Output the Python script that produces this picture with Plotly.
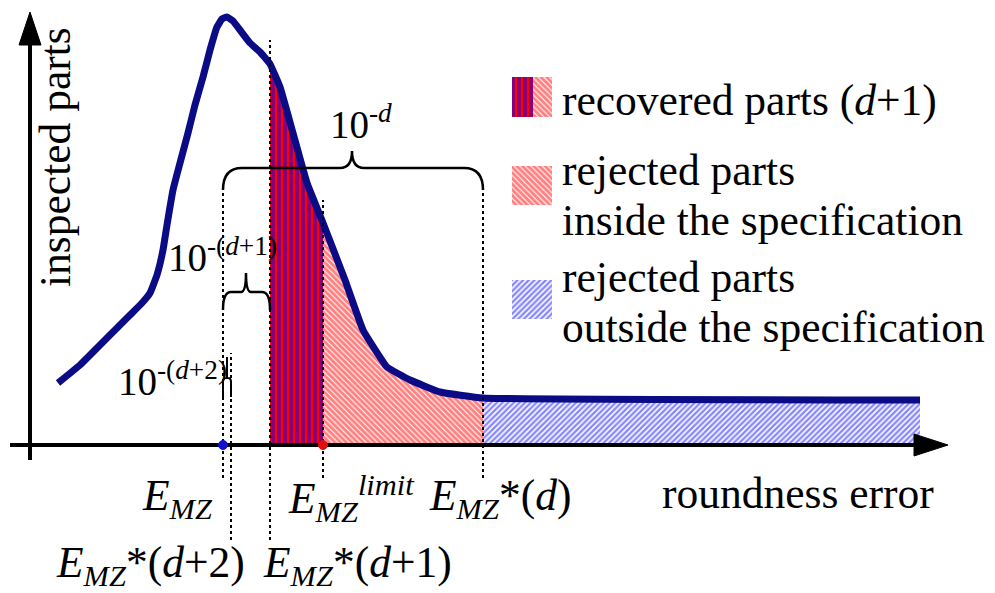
import numpy as np
import plotly.graph_objects as go

# ---- data (x: roundness error position, y: inspected parts height) ----
curve_x = [58, 80, 100, 118, 130, 142, 150, 157, 163, 167, 173, 180, 188, 195, 203, 210, 217,
           222, 227, 233, 240, 250, 260, 270, 280, 293, 307, 323, 345, 363, 387, 410, 440,
           483, 920]
curve_y = [62, 80, 100, 118, 130, 142, 152, 170, 195, 220, 255, 282, 312, 340, 368, 395, 418,
           426, 428, 424, 415, 402, 393, 381, 358, 312, 262, 222, 165, 115, 78, 65, 53,
           47, 45]

E_MZ = 223
E_d2 = 231
E_d1 = 270
E_limit = 323
E_d = 483
X_END = 920

legend_labels = ["recovered parts (<i>d</i>+1)", "rejected parts", "inside the specification",
                 "rejected parts", "outside the specification"]

FONT = "Liberation Serif"
FS = 43.5
NAVY = "#0b0b85"

cx = np.array(curve_x, float)
cy = np.array(curve_y, float)

STRIPES = dict(shape="|", fgcolor="#0000ff", bgcolor="#ff0000", size=6, solidity=0.62)
RED_HATCH = dict(shape="\\", fgcolor="#ff0000", bgcolor="#ffffff", size=4, solidity=0.72)
BLUE_HATCH = dict(shape="/", fgcolor="#1010ff", bgcolor="#ffffff", size=4, solidity=0.6)


def region(x0, x1):
    inner = [x for x in curve_x if x0 < x < x1]
    xs = [x0] + inner + [x1]
    ys = list(np.interp(xs, cx, cy))
    return xs + [x1, x0, x0], ys + [0, 0, ys[0]]


def add_fill(xs, ys, pattern):
    fig.add_trace(go.Scatter(x=xs, y=ys, mode="lines", line=dict(width=0), fill="toself",
                             fillcolor="rgba(0,0,0,0)", fillpattern=pattern,
                             hoverinfo="skip"))


def rect(x0, x1, y0, y1):
    return [x0, x1, x1, x0, x0], [y0, y0, y1, y1, y0]


fig = go.Figure()

add_fill(*region(E_d1, E_limit), STRIPES)
add_fill(*region(E_limit, E_d), RED_HATCH)
add_fill(*region(E_d, X_END), BLUE_HATCH)

# legend swatches
add_fill(*rect(512, 533, 328, 368), STRIPES)
add_fill(*rect(533, 552, 328, 368), RED_HATCH)
add_fill(*rect(512, 552, 240, 279), RED_HATCH)
add_fill(*rect(512, 552, 126, 165), BLUE_HATCH)

# curve
fig.add_trace(go.Scatter(x=curve_x, y=curve_y, mode="lines",
                         line=dict(color=NAVY, width=7, shape="spline", smoothing=0.3)))

shapes = []
# dotted verticals
for xv, top, bot in [(E_MZ, 258, -33), (E_d2, 92, -95), (E_d1, 405, -95),
                     (E_limit, 245, -33), (E_d, 258, -33)]:
    shapes.append(dict(type="line", x0=xv, x1=xv, y0=bot, y1=top, xref="x", yref="y",
                       line=dict(color="black", width=2, dash="dot")))
# axes
shapes.append(dict(type="line", x0=10, x1=925, y0=0, y1=0, line=dict(color="black", width=4)))
shapes.append(dict(type="line", x0=30, x1=30, y0=-15, y1=405, line=dict(color="black", width=4)))
shapes.append(dict(type="path", path="M 948,0 L 914,11 L 914,-11 Z", fillcolor="black",
                   line=dict(color="black", width=1)))
shapes.append(dict(type="path", path="M 30,433 L 19,400 L 41,400 Z", fillcolor="black",
                   line=dict(color="black", width=1)))
# braces
shapes.append(dict(type="path",
                   path="M 223,255 Q 223,277 242,277 L 340,277 Q 352,277 352,294 "
                        "Q 352,277 364,277 L 464,277 Q 483,277 483,255",
                   line=dict(color="black", width=2.5)))
shapes.append(dict(type="path",
                   path="M 223,135 Q 223,153 231,153 L 241,153 Q 246,153 246,172 "
                        "Q 246,153 251,153 L 262,153 Q 270,153 270,135",
                   line=dict(color="black", width=2.5)))
shapes.append(dict(type="path",
                   path="M 223,48 L 223,63 Q 223,67 226,67 L 228,67 Q 231,67 231,63 L 231,48 "
                        "M 227,67 L 227,88",
                   line=dict(color="black", width=2)))
# markers on axis (drawn over the axis line)
for xv, col in [(E_MZ, "#1010d0"), (E_limit, "#e01010")]:
    shapes.append(dict(type="circle", x0=xv - 4.5, x1=xv + 4.5, y0=-4.5, y1=4.5,
                       fillcolor=col, line=dict(color=col, width=1)))
fig.update_layout(shapes=shapes)


def txt(x, y, s, size=FS, xanchor="left", angle=0):
    fig.add_annotation(x=x, y=y, text=s, showarrow=False, xanchor=xanchor, yanchor="middle",
                       textangle=angle, font=dict(family=FONT, size=size, color="black"))


txt(328, 323, "10<sup>-<i>d</i></sup>", size=39)
txt(166, 190, "10<sup>-(<i>d</i>+1)</sup>", size=39)
txt(116, 66, "10<sup>-(<i>d</i>+2)</sup>", size=39)

txt(140, -53, "<i>E</i><sub><i>MZ</i></sub>")
txt(286, -53, "<i>E</i><sub><i>MZ</i></sub><sup><i>limit</i></sup>")
txt(427, -53, "<i>E</i><sub><i>MZ</i></sub>*(<i>d</i>)")
txt(54, -120, "<i>E</i><sub><i>MZ</i></sub>*(<i>d</i>+2)")
txt(261, -120, "<i>E</i><sub><i>MZ</i></sub>*(<i>d</i>+1)")
txt(660, -48, "roundness error")
txt(55, 288, "inspected parts", xanchor="center", angle=-90)

for lab, yy in zip(legend_labels, [345, 275, 225, 168, 118]):
    txt(560, yy, lab)

fig.update_layout(
    width=995, height=593, margin=dict(l=0, r=0, t=0, b=0),
    paper_bgcolor="white", plot_bgcolor="white", showlegend=False,
    xaxis=dict(range=[0, 995], visible=False, fixedrange=True),
    yaxis=dict(range=[-148, 445], visible=False, fixedrange=True),
)
fig.write_html("out.html")
